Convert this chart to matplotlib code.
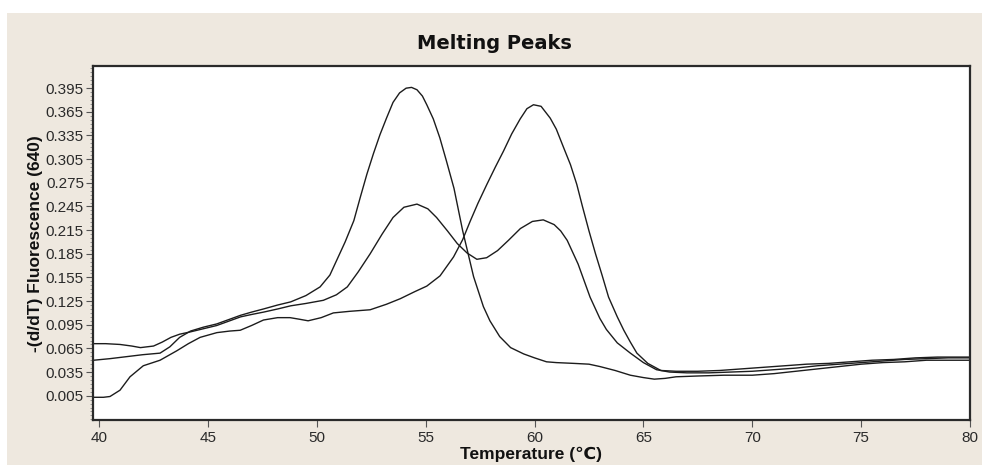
import matplotlib
matplotlib.use("Agg")
import matplotlib.pyplot as plt
from matplotlib.patches import Rectangle
from matplotlib.ticker import MultipleLocator, FormatStrFormatter
import numpy as np

# ---- data ----
temp_a = [39.75, 40.5, 41.1, 42.0, 42.8, 43.25, 43.7, 44.2, 44.8, 45.4, 46.0, 46.5, 47.0, 47.55,
          48.2, 48.8, 49.5, 50.15, 50.6, 50.9, 51.3, 51.7, 52.0, 52.3, 52.6, 52.9, 53.2, 53.5,
          53.8, 54.1, 54.35, 54.6, 54.85, 55.05, 55.35, 55.65, 55.95, 56.3, 56.7, 57.2, 57.65,
          57.95, 58.4, 58.9, 59.5, 60.0, 60.55, 61.0, 61.8, 62.5, 63.0, 63.7, 64.4, 65.0, 65.5,
          66.0, 66.5, 67.5, 68.7, 70.0, 71.0, 72.0, 73.0, 74.0, 75.0, 76.0, 77.0, 78.0, 79.0, 80.0]
fluor_a = [0.050, 0.052, 0.054, 0.057, 0.059, 0.067, 0.079, 0.087, 0.092, 0.096, 0.102, 0.107,
           0.111, 0.115, 0.120, 0.124, 0.132, 0.143, 0.158, 0.176, 0.200, 0.227, 0.257, 0.286,
           0.312, 0.336, 0.357, 0.377, 0.389, 0.395, 0.396, 0.393, 0.385, 0.374, 0.356, 0.332,
           0.303, 0.268, 0.214, 0.156, 0.118, 0.100, 0.080, 0.066, 0.058, 0.053, 0.048, 0.047,
           0.046, 0.045, 0.042, 0.037, 0.031, 0.028, 0.026, 0.027, 0.029, 0.030, 0.031, 0.031,
           0.033, 0.036, 0.039, 0.042, 0.045, 0.047, 0.048, 0.050, 0.050, 0.050]

temp_b = [39.75, 40.3, 40.96, 41.5, 41.9, 42.5, 42.9, 43.3, 43.7, 44.2, 44.8, 45.4, 46.0, 46.5,
          47.0, 47.55, 48.2, 48.8, 49.5, 50.3, 50.9, 51.4, 51.9, 52.45, 53.0, 53.5, 54.0, 54.6,
          55.1, 55.5, 56.0, 56.45, 56.9, 57.35, 57.8, 58.3, 58.8, 59.35, 59.9, 60.4, 60.9, 61.2,
          61.5, 62.0, 62.55, 63.0, 63.3, 63.8, 64.4, 65.0, 65.6, 66.2, 67.0, 68.0, 69.0, 70.0,
          71.0, 72.0, 73.0, 74.0, 75.0, 76.0, 77.0, 78.0, 79.0, 80.0]
fluor_b = [0.071, 0.071, 0.070, 0.068, 0.066, 0.068, 0.073, 0.079, 0.083, 0.086, 0.090, 0.094,
           0.100, 0.105, 0.108, 0.111, 0.115, 0.119, 0.122, 0.126, 0.133, 0.143, 0.162, 0.185,
           0.210, 0.231, 0.244, 0.248, 0.242, 0.231, 0.214, 0.198, 0.186, 0.178, 0.180, 0.189,
           0.202, 0.217, 0.226, 0.228, 0.222, 0.214, 0.202, 0.172, 0.130, 0.103, 0.089, 0.072,
           0.059, 0.047, 0.038, 0.035, 0.034, 0.034, 0.035, 0.036, 0.038, 0.040, 0.043, 0.045,
           0.047, 0.049, 0.051, 0.052, 0.053, 0.053]

temp_c = [39.75, 40.2, 40.5, 40.96, 41.42, 42.03, 42.8, 43.57, 44.1, 44.64, 45.41, 46.0, 46.48,
          47.0, 47.55, 48.2, 48.77, 49.2, 49.6, 50.2, 50.76, 51.5, 52.45, 53.2, 53.83, 54.5,
          55.05, 55.66, 56.28, 56.7, 57.04, 57.4, 57.81, 58.2, 58.57, 58.95, 59.34, 59.65, 59.95,
          60.3, 60.72, 61.0, 61.33, 61.65, 61.94, 62.2, 62.5, 62.8, 63.1, 63.4, 63.8, 64.1, 64.4,
          64.7, 65.2, 65.8, 66.5, 67.5, 68.5, 69.5, 70.5, 71.5, 72.5, 73.5, 74.5, 75.5, 76.5,
          77.5, 78.5, 79.5, 80.0]
fluor_c = [0.003, 0.003, 0.004, 0.012, 0.029, 0.043, 0.050, 0.062, 0.071, 0.079, 0.085, 0.087,
           0.088, 0.094, 0.101, 0.104, 0.104, 0.102, 0.100, 0.104, 0.110, 0.112, 0.114, 0.121,
           0.128, 0.137, 0.144, 0.157, 0.181, 0.203, 0.226, 0.249, 0.273, 0.295, 0.315, 0.337,
           0.356, 0.369, 0.374, 0.372, 0.357, 0.343, 0.320, 0.298, 0.273, 0.245, 0.214, 0.185,
           0.158, 0.130, 0.105, 0.088, 0.073, 0.059, 0.046, 0.037, 0.036, 0.036, 0.037, 0.039,
           0.041, 0.043, 0.045, 0.046, 0.048, 0.050, 0.051, 0.053, 0.054, 0.054, 0.054]

x_ticks = [40, 45, 50, 55, 60, 65, 70, 75, 80]
y_ticks = [0.005, 0.035, 0.065, 0.095, 0.125, 0.155, 0.185, 0.215, 0.245, 0.275,
           0.305, 0.335, 0.365, 0.395]

title = "Melting Peaks"
x_label = "Temperature (\u2103)"
y_label = "-(d/dT) Fluorescence (640)"

# ---- figure ----
W, H = 985, 465
fig = plt.figure(figsize=(W / 100, H / 100), dpi=100)
fig.patch.set_facecolor("white")
beige = "#EEE8DF"
fig.patches.append(Rectangle((7 / W, 0), (982 - 7) / W, (H - 13) / H,
                             transform=fig.transFigure, facecolor=beige,
                             edgecolor="none", zorder=-10))

left, right, top, bottom = 93, 970, 66.5, 420
ax = fig.add_axes([left / W, (H - bottom) / H, (right - left) / W, (bottom - top) / H])
ax.set_facecolor("white")

fam = ["Liberation Sans", "DejaVu Sans"]
line_kw = dict(color="#1c1c1c", lw=1.0, solid_joinstyle="round")
ax.plot(temp_a, fluor_a, **line_kw)
ax.plot(temp_b, fluor_b, **line_kw)
ax.plot(temp_c, fluor_c, **line_kw)

ax.set_xlim(39.72, 80)
ax.set_ylim(-0.0258, 0.4225)
ax.set_xticks(x_ticks)
ax.set_yticks(y_ticks)
ax.yaxis.set_major_formatter(FormatStrFormatter("%.3f"))
ax.yaxis.set_minor_locator(MultipleLocator(0.005))
ax.tick_params(axis="both", which="major", direction="out", length=5, width=0.8,
               color="#555555", labelsize=11, labelcolor="#2a2a2a")
ax.tick_params(axis="y", which="minor", direction="out", length=2.5, width=0.6, color="#888888")
ax.tick_params(axis="y", pad=1.5)
ax.tick_params(axis="x", pad=3)
for lab in ax.get_xticklabels() + ax.get_yticklabels():
    lab.set_family(fam)

for sp in ax.spines.values():
    sp.set_color("#2a2a2a")
    sp.set_linewidth(1.6)

ax.set_xlabel(x_label, family=fam, fontsize=12.5, fontweight="bold", labelpad=1, color="#111111")
ax.set_ylabel(y_label, family=fam, fontsize=12.5, fontweight="bold", labelpad=2, color="#111111")
fig.text(494 / W, 1 - 43 / H, title, ha="center", va="center", fontsize=14,
         fontweight="bold", family=["DejaVu Sans"], color="#111111")

fig.savefig("out.png", dpi=100, facecolor=fig.get_facecolor())
